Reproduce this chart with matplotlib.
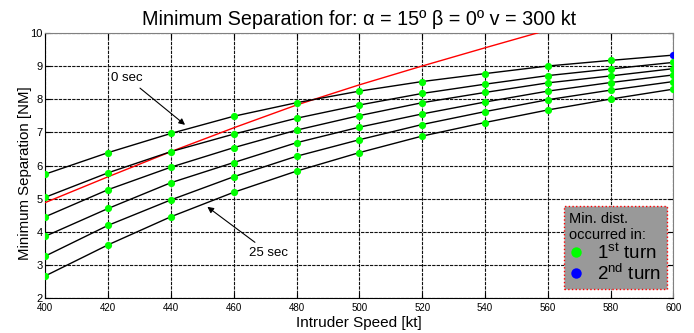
import matplotlib
matplotlib.use("Agg")
import matplotlib.pyplot as plt
from matplotlib.lines import Line2D
import numpy as np

plt.rcParams['font.family'] = ['Liberation Sans', 'DejaVu Sans']
plt.rcParams['mathtext.fontset'] = 'custom'
plt.rcParams['mathtext.rm'] = 'Liberation Sans'
plt.rcParams['mathtext.it'] = 'Liberation Sans'

speeds = [400, 420, 440, 460, 480, 500, 520, 540, 560, 580, 600]
sep_0s  = [5.74, 6.39, 6.97, 7.49, 7.90, 8.25, 8.54, 8.78, 9.01, 9.18, 9.34]
sep_5s  = [5.04, 5.78, 6.42, 6.95, 7.43, 7.83, 8.18, 8.46, 8.72, 8.92, 9.12]
sep_10s = [4.45, 5.27, 5.95, 6.54, 7.07, 7.51, 7.90, 8.21, 8.50, 8.71, 8.93]
sep_15s = [3.86, 4.70, 5.48, 6.09, 6.69, 7.16, 7.56, 7.92, 8.25, 8.51, 8.74]
sep_20s = [3.26, 4.19, 4.96, 5.66, 6.28, 6.78, 7.24, 7.63, 7.99, 8.28, 8.54]
sep_25s = [2.66, 3.60, 4.45, 5.19, 5.83, 6.39, 6.89, 7.30, 7.68, 8.01, 8.31]
series = [sep_0s, sep_5s, sep_10s, sep_15s, sep_20s, sep_25s]
# turn in which the minimum distance occurred (1 or 2)
turns_0s = [1, 1, 1, 1, 1, 1, 1, 1, 1, 1, 2]
turns = [turns_0s] + [[1] * len(speeds) for _ in range(5)]

red_speeds = [400, 420, 440, 460, 480, 500, 520, 540, 560]
red_sep = [4.88, 5.66, 6.42, 7.14, 7.83, 8.44, 9.01, 9.56, 10.10]

fig = plt.figure(figsize=(6.94, 3.33), dpi=100)
ax = fig.add_axes([0.0653, 0.106, 0.9049, 0.794])

ax.grid(True, color='#111111', linestyle=(0, (3, 1)), linewidth=0.8)
ax.set_axisbelow(True)

ax.plot(red_speeds, red_sep, color='red', lw=1.0, zorder=3)
for s, t in zip(series, turns):
    ax.plot(speeds, s, color='black', lw=1.0, zorder=3)
    s = np.array(s); t = np.array(t); x = np.array(speeds)
    ax.plot(x[t == 1], s[t == 1], 'o', color='#00ff00', ms=5.2, mec='none', zorder=4)
    if np.any(t == 2):
        ax.plot(x[t == 2], s[t == 2], 'o', color='#0000ff', ms=5.2, mec='none', zorder=4)

ax.set_xlim(400, 600)
ax.set_ylim(2, 10)
ax.set_xticks(speeds)
ax.set_yticks(range(2, 11))
ax.tick_params(axis='x', labelsize=7, direction='in', top=True, pad=4)
ax.tick_params(axis='y', labelsize=8, direction='in', right=True, pad=2)
for sp in ['top', 'right']:
    ax.spines[sp].set_color('#808080')

ax.set_title('Minimum Separation for: α = 15º β = 0º v = 300 kt', fontsize=14.2, pad=6)
ax.set_xlabel('Intruder Speed [kt]', fontsize=11, labelpad=2)
ax.set_ylabel('Minimum Separation [NM]', fontsize=10.8)
ax.yaxis.set_label_coords(-0.022, 0.472)

ax.annotate('0 sec', xy=(444.5, 7.23), xytext=(421, 8.66), fontsize=9.5,
            va='center', ha='left',
            arrowprops=dict(arrowstyle='-|>', color='black', lw=0.8,
                            shrinkA=2, shrinkB=0, mutation_scale=9))
ax.annotate('25 sec', xy=(451.6, 4.75), xytext=(465, 3.36), fontsize=9.5,
            va='center', ha='left',
            arrowprops=dict(arrowstyle='-|>', color='black', lw=0.8,
                            shrinkA=2, shrinkB=0, mutation_scale=9))

handles = [Line2D([], [], marker='o', ls='none', color='#00ff00', ms=7.5, mec='none'),
           Line2D([], [], marker='o', ls='none', color='#0000ff', ms=7.5, mec='none')]
labels = ['1$^{\\rm st}$ turn', '2$^{\\rm nd}$ turn']
leg = ax.legend(handles, labels, title='Min. dist.\noccurred in:', loc='lower right',
                bbox_to_anchor=(0.99, 0.032), fontsize=13.5, title_fontsize=10.5,
                facecolor='#999999', edgecolor='red', framealpha=1, fancybox=False,
                handlelength=0.7, handletextpad=0.8, borderpad=0.3, labelspacing=0.05,
                borderaxespad=0)
leg.get_frame().set_linestyle(':')
leg.get_frame().set_linewidth(1.0)
leg._legend_box.align = 'left'
leg.set_zorder(10)

fig.savefig('out.png', dpi=100)
